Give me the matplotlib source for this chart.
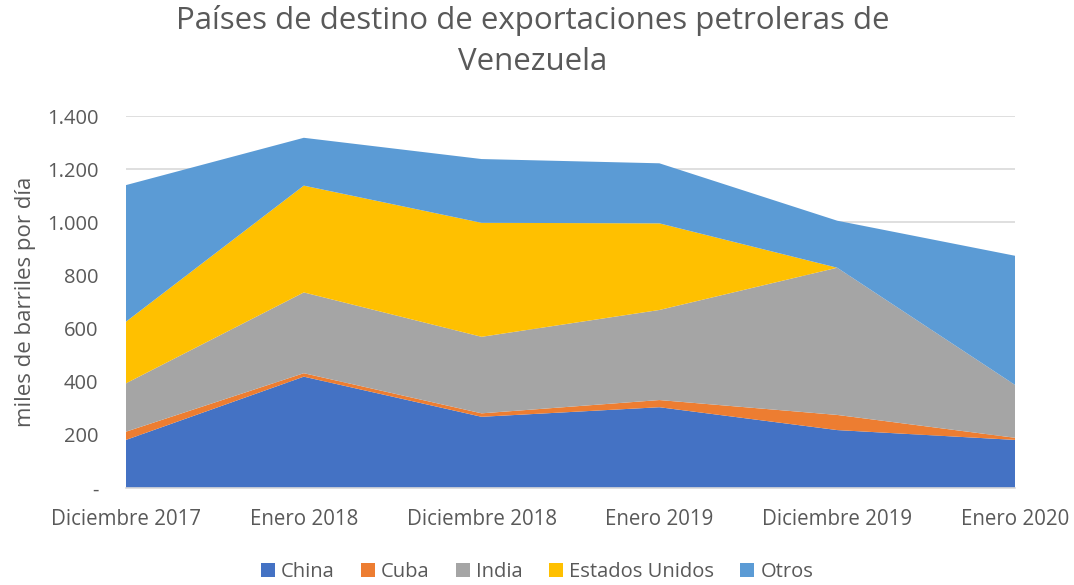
import matplotlib
matplotlib.use("Agg")
import matplotlib.pyplot as plt
import numpy as np

categories = ["Diciembre 2017", "Enero 2018", "Diciembre 2018", "Enero 2019", "Diciembre 2019", "Enero 2020"]
china = [181, 419, 268, 304, 218, 181]
cuba = [31, 13, 13, 27, 57, 8]
india = [182, 304, 288, 339, 554, 199]
estados_unidos = [232, 402, 429, 326, 0, 0]
otros = [514, 180, 240, 226, 177, 486]
series_names = ["China", "Cuba", "India", "Estados Unidos", "Otros"]
colors = ["#4472C4", "#ED7D31", "#A5A5A5", "#FFC000", "#5B9BD5"]
yticks = [0, 200, 400, 600, 800, 1000, 1200, 1400]
ytick_labels = ["-", "200", "400", "600", "800", "1.000", "1.200", "1.400"]

plt.rcParams['font.family'] = ['Open Sans', 'DejaVu Sans']
txt = "#595959"

fig = plt.figure(figsize=(10.74, 5.85), dpi=100)
ax = fig.add_axes([126/1074, 1-488/585, (1015-126)/1074, (488-116)/585])

x = np.arange(len(categories))
ax.stackplot(x, china, cuba, india, estados_unidos, otros, colors=colors,
             labels=series_names, linewidth=0, zorder=3)
ax.set_xlim(0, len(categories)-1)
ax.set_ylim(0, 1400)
ax.set_yticks(yticks)
ax.set_yticklabels(ytick_labels, color=txt, fontsize=14.5)
ax.set_xticks(x)
ax.set_xticklabels(categories, color=txt, fontsize=14.8)
ax.tick_params(axis='both', length=0)
ax.tick_params(axis='x', pad=15)
ax.tick_params(axis='y', pad=20)
ax.grid(axis='y', color="#D9D9D9", linewidth=1.2, zorder=0)
for s in ["top", "right", "left"]:
    ax.spines[s].set_visible(False)
ax.spines["bottom"].set_color("#D9D9D9")
ax.spines["bottom"].set_linewidth(1.2)
ax.spines["bottom"].set_zorder(4)

ax.set_ylabel("miles de barriles por día", color=txt, fontsize=16, labelpad=8)

fig.text(0.496, 1-41/585, "Países de destino de exportaciones petroleras de\nVenezuela",
         ha="center", va="center", color=txt, fontsize=22.5, linespacing=1.5)

handles, labels = ax.get_legend_handles_labels()
fig.legend(handles, labels, loc="center", bbox_to_anchor=(0.5, 1-572/585), ncol=5,
           frameon=False, fontsize=14.5, labelcolor=txt, handlelength=0.7, handleheight=0.7,
           handletextpad=0.3, columnspacing=1.3)

fig.savefig("out.png", dpi=100)
